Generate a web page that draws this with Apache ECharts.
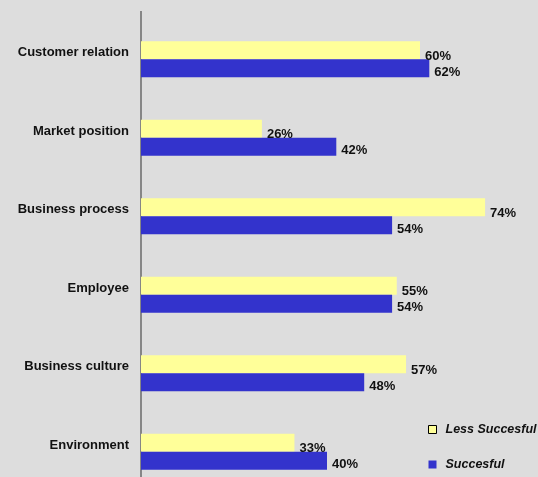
<!DOCTYPE html>
<html>
<head>
<meta charset="utf-8">
<script src="https://cdn.jsdelivr.net/npm/echarts@6/dist/echarts.min.js"></script>
<style>
  html, body { margin: 0; padding: 0; background: #dddddd; }
  #chart { width: 538px; height: 477px; }
</style>
</head>
<body>
<div id="chart"></div>
<script>
// Success factors: share of answers for less successful vs successful companies
const categories = ['Customer relation', 'Market position', 'Business process', 'Employee', 'Business culture', 'Environment'];
const seriesNames = ['Less Succesful', 'Succesful'];
const lessSuccessful = [60, 26, 74, 55, 57, 33];
const successful = [62, 42, 54, 54, 48, 40];

const FONT = '"Liberation Sans", Arial, sans-serif';
const chart = echarts.init(document.getElementById('chart'));

const valueLabel = (dy) => ({
  show: true,
  position: 'right',
  distance: 5,
  offset: [0, dy],
  formatter: '{c}%',
  color: '#111',
  fontFamily: FONT,
  fontWeight: 'bold',
  fontSize: 13
});

chart.setOption({
  backgroundColor: '#dddddd',
  animation: false,
  // the last category band runs past the lower edge of the canvas
  grid: { left: 141, top: 20, width: 372, height: 471, outerBoundsMode: 'none', containLabel: false },
  xAxis: {
    type: 'value',
    min: 0,
    max: 80,
    show: false
  },
  yAxis: {
    type: 'category',
    data: categories,
    inverse: true,
    axisLine: { show: true, lineStyle: { color: '#868686', width: 2 } },
    axisTick: { show: false },
    axisLabel: {
      margin: 12,
      color: '#111',
      fontFamily: FONT,
      fontWeight: 'bold',
      fontSize: 13,
      verticalAlign: 'bottom',
      lineHeight: 13
    }
  },
  legend: {
    orient: 'vertical',
    left: 428,
    top: 423,
    padding: 0,
    itemWidth: 8,
    itemHeight: 8,
    itemGap: 22,
    textStyle: {
      color: '#111',
      fontFamily: FONT,
      fontWeight: 'bold',
      fontStyle: 'italic',
      fontSize: 12.5,
      padding: [0, 0, 0, 4]
    },
    data: [
      { name: seriesNames[0], icon: 'rect', itemStyle: { borderColor: '#000', borderWidth: 1 } },
      { name: seriesNames[1], icon: 'rect' }
    ]
  },
  // the axis line runs a little past the first category band
  graphic: [{
    type: 'line',
    shape: { x1: 141, y1: 11, x2: 141, y2: 20 },
    style: { stroke: '#868686', lineWidth: 2 },
    silent: true
  }],
  series: [
    {
      name: seriesNames[0],
      type: 'bar',
      data: lessSuccessful,
      barWidth: 18,
      barGap: '0%',
      itemStyle: { color: '#ffff99' },
      label: valueLabel(6)
    },
    {
      name: seriesNames[1],
      type: 'bar',
      data: successful,
      barWidth: 18,
      itemStyle: { color: '#3333cc' },
      label: valueLabel(4)
    }
  ]
});
</script>
</body>
</html>
